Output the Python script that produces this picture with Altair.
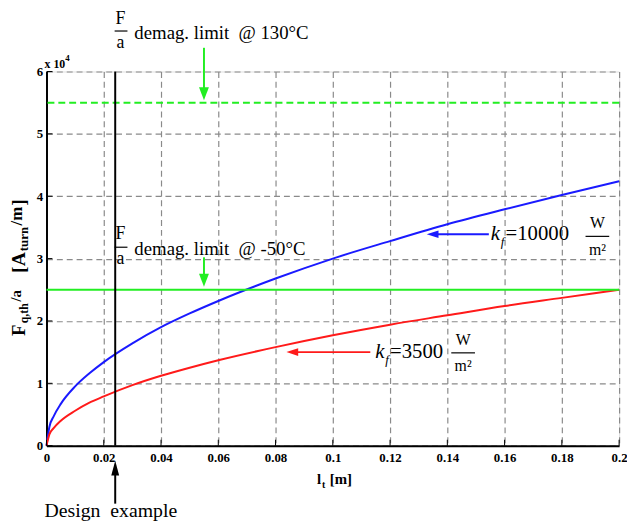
import altair as alt
import pandas as pd

# ---------------- data ----------------
lt = [0, 0.001, 0.0025, 0.005, 0.01, 0.015, 0.02, 0.03, 0.04, 0.05, 0.06,
      0.08, 0.1, 0.12, 0.14, 0.16, 0.18, 0.2]
f_kf10000 = [0, 3000, 4700, 6700, 9500, 11600, 13400, 16400, 19000, 21200,
             23200, 26800, 30000, 32800, 35500, 37900, 40200, 42400]
f_kf3500 = [0, 1800, 2800, 4000, 5600, 6900, 7900, 9700, 11200, 12500,
            13700, 15800, 17700, 19400, 20900, 22400, 23700, 25000]
limit_130C = 55000
limit_m50C = 25000
design_lt = 0.024
x_ticks = [0, 0.02, 0.04, 0.06, 0.08, 0.1, 0.12, 0.14, 0.16, 0.18, 0.2]
y_ticks = [0, 10000, 20000, 30000, 40000, 50000, 60000]

SERIF = "Times New Roman, Liberation Serif, serif"
NB = "\u00a0"
W, H = 580, 379
OX, OY = 47, 69  # page position of the plot origin (for annotation text)
XMAX, YMAX = 0.2, 60000

curves = pd.concat([
    pd.DataFrame({"lt": lt, "F": f_kf10000, "s": "kf10000"}),
    pd.DataFrame({"lt": lt, "F": f_kf3500, "s": "kf3500"}),
])

xscale = alt.Scale(domain=[0, XMAX], nice=False, zero=False)
yscale = alt.Scale(domain=[0, YMAX], nice=False)

xaxis = alt.Axis(values=x_ticks, labelExpr="format(datum.value, '.2~f')", title=None,
                 grid=True, gridDash=[6, 4], gridColor="#8a8a8a", gridWidth=1.2,
                 domainColor="black", domainWidth=2, ticks=False, labelFont=SERIF,
                 labelFontWeight="bold", labelFontSize=13, labelPadding=6,
                 labelColor="black", labelFlush=False)
yaxis = alt.Axis(values=y_ticks, labelExpr="datum.value / 10000", title=None,
                 grid=True, gridDash=[6, 4], gridColor="#8a8a8a", gridWidth=1.2,
                 domainColor="black", domainWidth=2, ticks=False, labelFont=SERIF,
                 labelFontWeight="bold", labelFontSize=13, labelPadding=4,
                 labelColor="black", labelFlush=False)

base = alt.Chart(curves).mark_line(strokeWidth=2, interpolate="monotone").encode(
    x=alt.X("lt:Q", scale=xscale, axis=xaxis),
    y=alt.Y("F:Q", scale=yscale, axis=yaxis),
    color=alt.Color("s:N", scale=alt.Scale(domain=["kf10000", "kf3500"],
                                           range=["#1a1aff", "#ff1a1a"]), legend=None),
)

# inward tick marks on both axes
xt = alt.Chart(pd.DataFrame({"x": x_ticks, "y": [0] * len(x_ticks)})).mark_tick(
    color="black", thickness=1, size=6, orient="vertical", opacity=1, yOffset=-3
).encode(x="x:Q", y="y:Q")
yt = alt.Chart(pd.DataFrame({"y": y_ticks, "x": [0] * len(y_ticks)})).mark_tick(
    color="black", thickness=1, size=6, orient="horizontal", opacity=1, xOffset=3
).encode(x="x:Q", y="y:Q")

GREEN = "#22ee22"
hl130 = alt.Chart(pd.DataFrame({"y": [limit_130C]})).mark_rule(
    color=GREEN, strokeWidth=2, strokeDash=[7, 4]).encode(y="y:Q")
hl50 = alt.Chart(pd.DataFrame({"y": [limit_m50C]})).mark_rule(
    color=GREEN, strokeWidth=2).encode(y="y:Q")
vline = alt.Chart(pd.DataFrame({"x": [design_lt], "y0": [0], "y1": [YMAX]})).mark_rule(
    color="black", strokeWidth=2).encode(x="x:Q", y="y0:Q", y2="y1:Q")

one = pd.DataFrame({"a": [0]})


def arrow(x0, y0, x1, y1, color, shape, size, offs):
    df = pd.DataFrame({"x0": [x0], "y0": [y0], "x1": [x1], "y1": [y1]})
    kw = {}
    if offs[0]:
        kw["x2Offset"] = offs[0]
    if offs[1]:
        kw["y2Offset"] = offs[1]
    r = alt.Chart(df).mark_rule(color=color, strokeWidth=2, **kw).encode(
        x="x0:Q", y="y0:Q", x2="x1:Q", y2="y1:Q")
    h = alt.Chart(df).mark_point(shape=shape, size=size, filled=True, opacity=1,
                                 color=color, strokeWidth=0).encode(x="x1:Q", y="y1:Q")
    return r + h


DOWN = "M0,0 L-0.5,-1.3 L0.5,-1.3 Z"
LEFT = "M0,0 L1.4,-0.45 L1.4,0.45 Z"
UP = "M0,0 L-0.4,1.5 L0.4,1.5 Z"

arrows = [
    arrow(0.055, 63800, 0.055, 55400, GREEN, DOWN, 400, (0, -10)),
    arrow(0.055, 30200, 0.055, 25500, GREEN, DOWN, 400, (0, -10)),
    arrow(0.1545, 33900, 0.1328, 33900, "#1a1aff", LEFT, 290, (9, 0)),
    arrow(0.1131, 15000, 0.0838, 15000, "#ff1a1a", LEFT, 290, (9, 0)),
    arrow(design_lt, -9300, design_lt, -2400, "black", UP, 400, (0, 12)),
]


def T(s, px, py, size=19, weight="normal", style="normal", align="left",
      baseline="middle", angle=0, color="black"):
    return alt.Chart(one).mark_text(
        text=s, font=SERIF, fontSize=size, fontWeight=weight, fontStyle=style,
        align=align, baseline=baseline, angle=angle, color=color
    ).encode(x=alt.value(px - OX), y=alt.value(py - OY))


def HR(px0, px1, py, width=1.2):
    # short horizontal bar (fraction bar / underline), placed through the scales
    def dx(p):
        return (p - OX) / W * XMAX

    def dy(p):
        return (OY + H - p) / H * YMAX
    df = pd.DataFrame({"x0": [dx(px0)], "x1": [dx(px1)], "y": [dy(py)]})
    return alt.Chart(df).mark_rule(color="black", strokeWidth=width).encode(
        x="x0:Q", x2="x1:Q", y="y:Q")


sp2 = NB + NB
texts = [
    # top annotation
    T("F", 122, 16, 18, align="center"), HR(116, 129, 28), T("a", 122, 40, 18, align="center"),
    T("demag." + NB + "limit" + sp2 + "@" + NB + "130°C", 136, 30, 19),
    # middle annotation
    T("F", 122, 234, 18, align="center"), HR(116, 129, 247), T("a", 122, 259, 18, align="center"),
    T("demag." + NB + "limit" + sp2 + "@" + NB + "-50°C", 136, 249, 19),
    # blue label
    T("k", 497, 234, 21, style="italic"), T("f", 507, 242, 13, style="italic"),
    T("=10000", 512, 234, 21),
    T("W", 605, 223, 16, align="center"), HR(593, 617, 236), T("m²", 605, 250, 16, align="center"),
    # red label
    T("k", 380, 353, 21, style="italic"), T("f", 390, 361, 13, style="italic"),
    T("=3500", 395, 353, 21),
    T("W", 469, 341, 16, align="center"), HR(457, 481, 354), T("m²", 469, 367, 16, align="center"),
    # design example
    T("Design" + sp2 + "example", 45, 514, 20), HR(45, 197, 525),
    # x 10^4
    T("x" + NB + "10", 45, 61, 12, weight="bold"), T("4", 66, 55, 9, weight="bold"),
    # x axis title
    T("l", 321, 482, 15, weight="bold"), T("t", 326, 488, 10, weight="bold"),
    T("[m]", 334, 482, 15, weight="bold"),
    # y axis title (rotated)
    T("F", 19, 337, 19, weight="bold", angle=270),
    T("q,th", 24, 324, 12, weight="bold", angle=270),
    T("/a", 16, 302, 15, weight="bold", angle=270),
    T("[A", 19, 273, 20, weight="bold", angle=270),
    T("turn", 24, 251, 13, weight="bold", angle=270),
    T("/m", 17, 225, 17, weight="bold", angle=270),
    T("]", 19, 205, 20, weight="bold", angle=270),
]

chart = alt.layer(base, xt, yt, hl130, hl50, vline, *arrows, *texts).properties(
    width=W, height=H,
    padding={"left": 39, "top": 61, "right": 8, "bottom": 73},
    autosize=alt.AutoSizeParams(type="none"),
).configure_view(stroke=None).configure(background="white")

chart.save("out.html", embed_options={"renderer": "svg", "actions": False})
